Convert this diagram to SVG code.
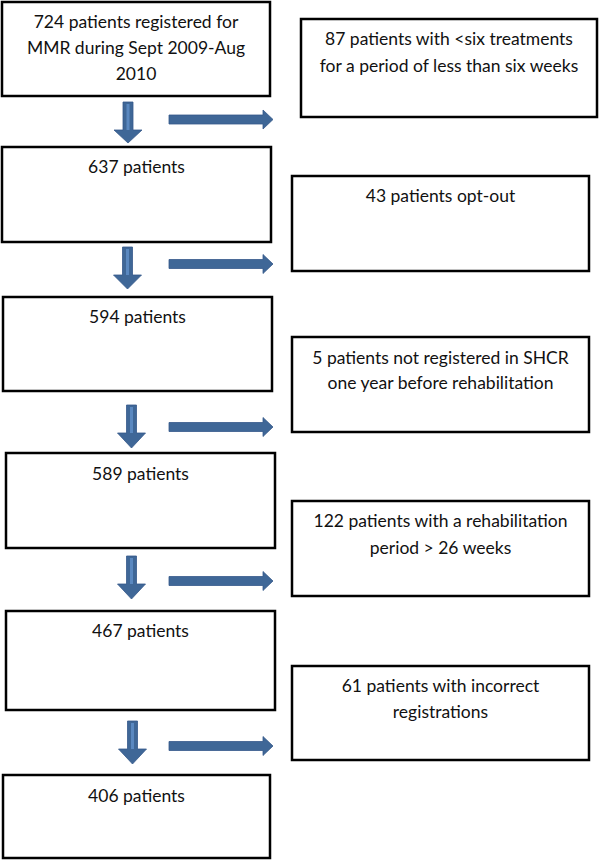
<svg xmlns="http://www.w3.org/2000/svg" width="600" height="867" viewBox="0 0 600 867">
<style>
.box{fill:#fff;stroke:#000;stroke-width:2.5}
.t{font-family:Lato,"Liberation Sans",sans-serif;font-size:17.5px;fill:#111;text-anchor:middle}
.arr{fill:#3f6797;stroke:#36598a;stroke-width:0.8}
.hl{fill:#5a88c0}
</style>
<rect width="600" height="867" fill="#fff"/>
<g id="n1"><rect class="box" x="2" y="2" width="268" height="94"/>
<text class="t" x="136" y="28">724 patients registered for</text>
<text class="t" x="136" y="54">MMR during Sept 2009-Aug</text>
<text class="t" x="136" y="80">2010</text></g>
<g id="r1"><rect class="box" x="301" y="19" width="296" height="98"/>
<text class="t" x="449" y="45">87 patients with &lt;six treatments</text>
<text class="t" x="449" y="72">for a period of less than six weeks</text></g>
<g id="n2"><rect class="box" x="2" y="147" width="269" height="95"/>
<text class="t" x="136.5" y="173">637 patients</text></g>
<g id="r2"><rect class="box" x="292" y="176" width="297" height="95"/>
<text class="t" x="440.5" y="202">43 patients opt-out</text></g>
<g id="n3"><rect class="box" x="3" y="297" width="269" height="94"/>
<text class="t" x="137.5" y="323">594 patients</text></g>
<g id="r3"><rect class="box" x="292" y="337" width="297" height="95"/>
<text class="t" x="440.5" y="364">5 patients not registered in SHCR</text>
<text class="t" x="440.5" y="389">one year before rehabilitation</text></g>
<g id="n4"><rect class="box" x="6" y="453" width="269" height="95"/>
<text class="t" x="140.5" y="480">589 patients</text></g>
<g id="r4"><rect class="box" x="292" y="501" width="297" height="95"/>
<text class="t" x="440.5" y="527">122 patients with a rehabilitation</text>
<text class="t" x="440.5" y="554">period &gt; 26 weeks</text></g>
<g id="n5"><rect class="box" x="6" y="611" width="269" height="99"/>
<text class="t" x="140.5" y="637">467 patients</text></g>
<g id="r5"><rect class="box" x="292" y="666" width="297" height="94"/>
<text class="t" x="440.5" y="692">61 patients with incorrect</text>
<text class="t" x="440.5" y="718">registrations</text></g>
<g id="n6"><rect class="box" x="3" y="775" width="267" height="83"/>
<text class="t" x="136.5" y="802">406 patients</text></g>
<g id="connectors">
<path class="arr" d="M123,102h10v28h9l-14,13l-14,-13h9z"/><rect class="hl" x="126.5" y="104" width="3" height="26"/>
<path class="arr" d="M169,115h94v-5l10,9.5l-10,9.5v-5h-94z"/>
<path class="arr" d="M122.5,247h10v28h9l-14,14l-14,-14h9z"/><rect class="hl" x="126" y="249" width="3" height="26"/>
<path class="arr" d="M169,259.5h94v-5l10,9.5l-10,9.5v-5h-94z"/>
<path class="arr" d="M126.5,405h10v28h9l-14,15l-14,-15h9z"/><rect class="hl" x="130" y="407" width="3" height="26"/>
<path class="arr" d="M169,422.5h94v-5l10,9.5l-10,9.5v-5h-94z"/>
<path class="arr" d="M126.5,556h10v28h9l-14,15l-14,-15h9z"/><rect class="hl" x="130" y="558" width="3" height="26"/>
<path class="arr" d="M169,576.5h94v-5l10,9.5l-10,9.5v-5h-94z"/>
<path class="arr" d="M127.5,721h10v28h9l-14,15l-14,-15h9z"/><rect class="hl" x="131" y="723" width="3" height="26"/>
<path class="arr" d="M169,741.5h94v-5l10,9.5l-10,9.5v-5h-94z"/>
</g>
</svg>
